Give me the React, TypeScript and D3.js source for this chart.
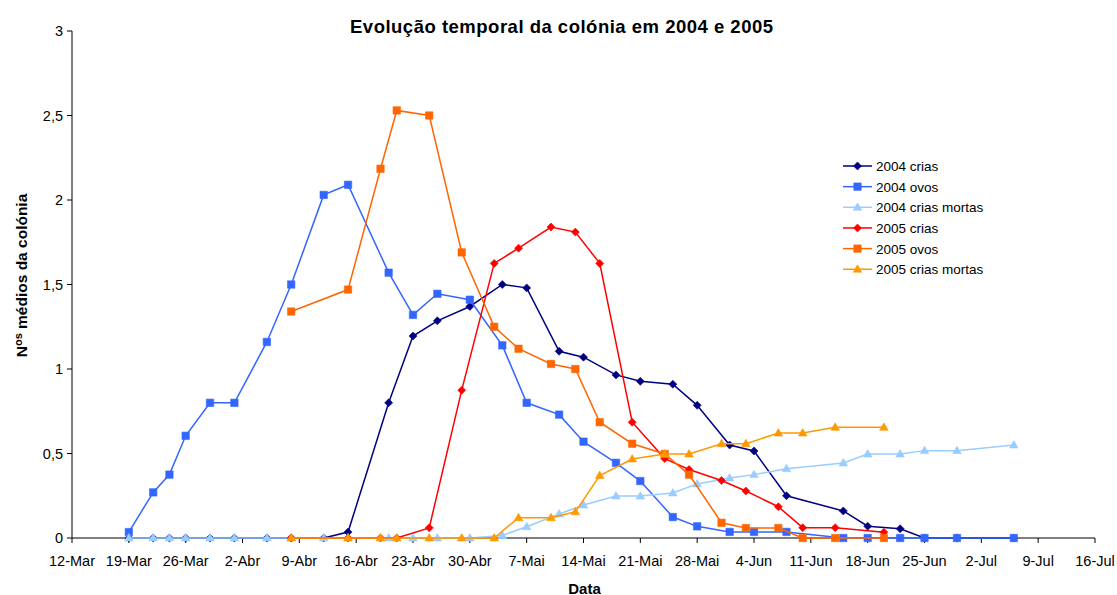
import React from "react";
import * as d3 from "d3";

const dates2004 = ["03-19","03-22","03-24","03-26","03-29","04-01","04-05","04-08","04-12","04-15","04-20","04-23","04-26","04-30","05-04","05-07","05-11","05-14","05-18","05-21","05-25","05-28","06-01","06-04","06-08","06-15","06-18","06-22","06-25","06-29","07-06"];
const crias2004 = [0,0,0,0,0,0,0,0,0,0.035,0.80,1.195,1.285,1.37,1.50,1.48,1.105,1.07,0.965,0.927,0.91,0.785,0.55,0.515,0.25,0.16,0.07,0.055,0,0,0];
const ovos2004 = [0.035,0.27,0.375,0.605,0.80,0.80,1.16,1.50,2.03,2.09,1.57,1.32,1.445,1.41,1.14,0.80,0.73,0.57,0.445,0.337,0.124,0.069,0.036,0.036,0.036,0,0,0,0,0,0];
const mortas2004 = [0,0,0,0,0,0,0,0,0,0,0,0,0,0,0.015,0.067,0.142,0.195,0.248,0.248,0.266,0.32,0.355,0.375,0.41,0.444,0.497,0.497,0.517,0.517,0.55];

const dates2005 = ["04-08","04-15","04-19","04-21","04-25","04-29","05-03","05-06","05-10","05-13","05-16","05-20","05-24","05-27","05-31","06-03","06-07","06-10","06-14","06-20"];
const crias2005 = [0,0,0,0,0.06,0.875,1.625,1.715,1.84,1.81,1.625,0.685,0.47,0.405,0.34,0.278,0.185,0.061,0.061,0.034];
const ovos2005 = [1.34,1.47,2.185,2.53,2.50,1.69,1.25,1.12,1.03,1.00,0.685,0.558,0.497,0.375,0.09,0.059,0.059,0,0,0];
const mortas2005 = [0,0,0,0,0,0,0,0.12,0.12,0.155,0.37,0.467,0.497,0.497,0.558,0.558,0.621,0.621,0.655,0.655];

const xTickLabels = ["12-Mar","19-Mar","26-Mar","2-Abr","9-Abr","16-Abr","23-Abr","30-Abr","7-Mai","14-Mai","21-Mai","28-Mai","4-Jun","11-Jun","18-Jun","25-Jun","2-Jul","9-Jul","16-Jul"];
const yTicks = [0, 0.5, 1, 1.5, 2, 2.5, 3];

const seriesNames = ["2004 crias","2004 ovos","2004 crias mortas","2005 crias","2005 ovos","2005 crias mortas"];
const seriesColors = ["#000080","#3366FF","#99CCFF","#FF0000","#FF6600","#FF9900"];
const seriesShapes = ["diamond","square","triangle","diamond","square","triangle"];

const W = 1117, H = 595;
const M = { left: 72, right: 1095, top: 31, bottom: 538 };
const FONT = "Arial, 'Liberation Sans', Helvetica, sans-serif";

const parse = (s: string) => {
  const [m, d] = s.split("-").map(Number);
  return new Date(Date.UTC(2004, m - 1, d));
};
const start = new Date(Date.UTC(2004, 2, 12));
const end = new Date(Date.UTC(2004, 6, 16));

const x = d3.scaleUtc().domain([start, end]).range([M.left, M.right]);
const y = d3.scaleLinear().domain([0, 3]).range([M.bottom, M.top]);
const xTicks = d3.range(xTickLabels.length).map((i) => d3.utcDay.offset(start, 7 * i));
const yFmt = d3.formatLocale({ decimal: ",", thousands: ".", grouping: [3], currency: ["", "€"] }).format("~g");

const seriesData = [
  { dates: dates2004, values: crias2004 },
  { dates: dates2004, values: ovos2004 },
  { dates: dates2004, values: mortas2004 },
  { dates: dates2005, values: crias2005 },
  { dates: dates2005, values: ovos2005 },
  { dates: dates2005, values: mortas2005 },
];

function markerPath(shape: string, cx: number, cy: number) {
  if (shape === "diamond") {
    const r = 4;
    return `M${cx},${cy - r}L${cx + r},${cy}L${cx},${cy + r}L${cx - r},${cy}Z`;
  }
  if (shape === "square") {
    const r = 3.7;
    return `M${cx - r},${cy - r}H${cx + r}V${cy + r}H${cx - r}Z`;
  }
  const w = 4.3, h = 7.4;
  return `M${cx},${cy - h * 0.6}L${cx + w},${cy + h * 0.4}L${cx - w},${cy + h * 0.4}Z`;
}

export default function App() {
  const line = d3
    .line<[Date, number]>()
    .x((d) => x(d[0]))
    .y((d) => y(d[1]));

  return (
    <svg width={W} height={H} style={{ position: "absolute", left: 0, top: 0, background: "#fff" }} fontFamily={FONT}>
      <rect width={W} height={H} fill="#fff" />
      <text x={350} y={33} fontWeight="bold" fontSize={18.5} textLength={423} lengthAdjust="spacing">
        Evolução temporal da colónia em 2004 e 2005
      </text>

      {/* axes */}
      <line x1={M.left} x2={M.left} y1={M.top} y2={M.bottom} stroke="#000" strokeWidth={1} />
      <line x1={M.left} x2={M.right} y1={M.bottom} y2={M.bottom} stroke="#000" strokeWidth={1} />
      {yTicks.map((t) => (
        <g key={"y" + t}>
          <line x1={M.left - 5} x2={M.left} y1={y(t)} y2={y(t)} stroke="#000" />
          <text x={63} y={y(t) + 5} textAnchor="end" fontSize={14.5}>
            {yFmt(t)}
          </text>
        </g>
      ))}
      {xTicks.map((t, i) => (
        <g key={"x" + i}>
          <line x1={x(t)} x2={x(t)} y1={M.bottom} y2={M.bottom + 5} stroke="#000" />
          <text x={x(t)} y={566} textAnchor="middle" fontSize={14.5}>
            {xTickLabels[i]}
          </text>
        </g>
      ))}
      <text x={584.5} y={593.5} textAnchor="middle" fontWeight="bold" fontSize={15}>
        Data
      </text>
      <text transform={`translate(27,275.5) rotate(-90)`} textAnchor="middle" fontWeight="bold" fontSize={15.5}>
        N<tspan dy={-5.5} fontSize={11}>os</tspan>
        <tspan dy={5.5}> médios da colónia</tspan>
      </text>

      {/* series */}
      {seriesData.map((s, si) => {
        const pts: [Date, number][] = s.dates.map((d, i) => [parse(d), s.values[i]]);
        return (
          <g key={"s" + si}>
            <path d={line(pts) || ""} fill="none" stroke={seriesColors[si]} strokeWidth={1.5} />
            {pts.map((p, i) => (
              <path key={i} d={markerPath(seriesShapes[si], x(p[0]), y(p[1]))} fill={seriesColors[si]} stroke={seriesColors[si]} strokeWidth={0.6} />
            ))}
          </g>
        );
      })}

      {/* legend */}
      {seriesNames.map((n, i) => {
        const cy = 166 + i * 20.65;
        return (
          <g key={"l" + i}>
            <line x1={843} x2={872} y1={cy} y2={cy} stroke={seriesColors[i]} strokeWidth={1.5} />
            <path d={markerPath(seriesShapes[i], 857.5, cy)} fill={seriesColors[i]} stroke={seriesColors[i]} strokeWidth={0.6} />
            <text x={876} y={cy + 5} fontSize={13.5}>
              {n}
            </text>
          </g>
        );
      })}
    </svg>
  );
}
